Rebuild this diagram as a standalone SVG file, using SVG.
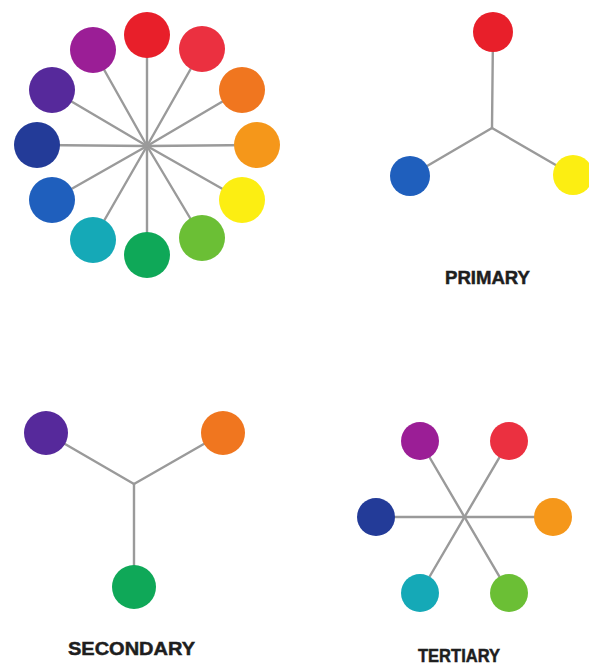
<svg xmlns="http://www.w3.org/2000/svg" width="589" height="666" viewBox="0 0 589 666">
<style>
.c line{stroke:#9a9a9a;stroke-width:2.4;stroke-linecap:round}
.lbl{font-family:"Liberation Sans",Arial,sans-serif;font-weight:bold;font-size:19px;fill:#1e1e1e;stroke:#1e1e1e;stroke-width:0.5;text-anchor:middle}
</style>
<rect width="589" height="666" fill="#ffffff"/>
<g id="connectors" class="c">
  <line x1="147" y1="146" x2="147" y2="35"/>
  <line x1="147" y1="146" x2="202" y2="49"/>
  <line x1="147" y1="146" x2="242" y2="90"/>
  <line x1="147" y1="146" x2="257" y2="145"/>
  <line x1="147" y1="146" x2="242" y2="200"/>
  <line x1="147" y1="146" x2="202" y2="238"/>
  <line x1="147" y1="146" x2="147" y2="255"/>
  <line x1="147" y1="146" x2="93" y2="240"/>
  <line x1="147" y1="146" x2="52" y2="200"/>
  <line x1="147" y1="146" x2="37" y2="145"/>
  <line x1="147" y1="146" x2="52" y2="90"/>
  <line x1="147" y1="146" x2="93" y2="50"/>
  <line x1="492" y1="128" x2="493" y2="32"/>
  <line x1="492" y1="128" x2="410" y2="176"/>
  <line x1="492" y1="128" x2="573" y2="175"/>
  <line x1="134" y1="484" x2="46" y2="433"/>
  <line x1="134" y1="484" x2="223" y2="433"/>
  <line x1="134" y1="484" x2="134" y2="587"/>
  <line x1="420" y1="441" x2="509" y2="593"/>
  <line x1="509" y1="441" x2="420" y2="593"/>
  <line x1="376" y1="517" x2="553" y2="517"/>
</g>
<g id="wheel">
  <circle id="w-red" cx="147" cy="35" r="23" fill="#e81f2a"/>
  <circle id="w-redorange" cx="202" cy="49" r="23" fill="#eb3040"/>
  <circle id="w-orange" cx="242" cy="90" r="23" fill="#f0761f"/>
  <circle id="w-yelloworange" cx="257" cy="145" r="23" fill="#f5971a"/>
  <circle id="w-yellow" cx="242" cy="200" r="23" fill="#fcee12"/>
  <circle id="w-yellowgreen" cx="202" cy="238" r="23" fill="#6bbf35"/>
  <circle id="w-green" cx="147" cy="255" r="23" fill="#0fa858"/>
  <circle id="w-teal" cx="93" cy="240" r="23" fill="#15a9b7"/>
  <circle id="w-blue" cx="52" cy="200" r="23" fill="#1f5fbd"/>
  <circle id="w-darkblue" cx="37" cy="145" r="23" fill="#233b98"/>
  <circle id="w-indigo" cx="52" cy="90" r="23" fill="#56299b"/>
  <circle id="w-purple" cx="93" cy="50" r="23" fill="#9b1e96"/>
</g>
<g id="primary">
  <circle id="p-red" cx="493" cy="32" r="20" fill="#e81f2a"/>
  <circle id="p-blue" cx="410" cy="176" r="20" fill="#1f5fbd"/>
  <circle id="p-yellow" cx="573" cy="175" r="20" fill="#fcee12"/>
  <text class="lbl" x="487.5" y="284" textLength="85" lengthAdjust="spacingAndGlyphs">PRIMARY</text>
</g>
<g id="secondary">
  <circle id="s-purple" cx="46" cy="433" r="22" fill="#56299b"/>
  <circle id="s-orange" cx="223" cy="433" r="22" fill="#f0761f"/>
  <circle id="s-green" cx="134" cy="587" r="22" fill="#0fa858"/>
  <text class="lbl" x="131.5" y="655" textLength="127" lengthAdjust="spacingAndGlyphs">SECONDARY</text>
</g>
<g id="tertiary">
  <circle id="t-purple" cx="420" cy="441" r="19" fill="#9b1e96"/>
  <circle id="t-red" cx="509" cy="441" r="19" fill="#eb3040"/>
  <circle id="t-darkblue" cx="376" cy="517" r="19" fill="#233b98"/>
  <circle id="t-orange" cx="553" cy="517" r="19" fill="#f5971a"/>
  <circle id="t-teal" cx="420" cy="593" r="19" fill="#15a9b7"/>
  <circle id="t-green" cx="509" cy="593" r="19" fill="#6bbf35"/>
  <text class="lbl" x="459" y="662" textLength="82" lengthAdjust="spacingAndGlyphs">TERTIARY</text>
</g>
</svg>
